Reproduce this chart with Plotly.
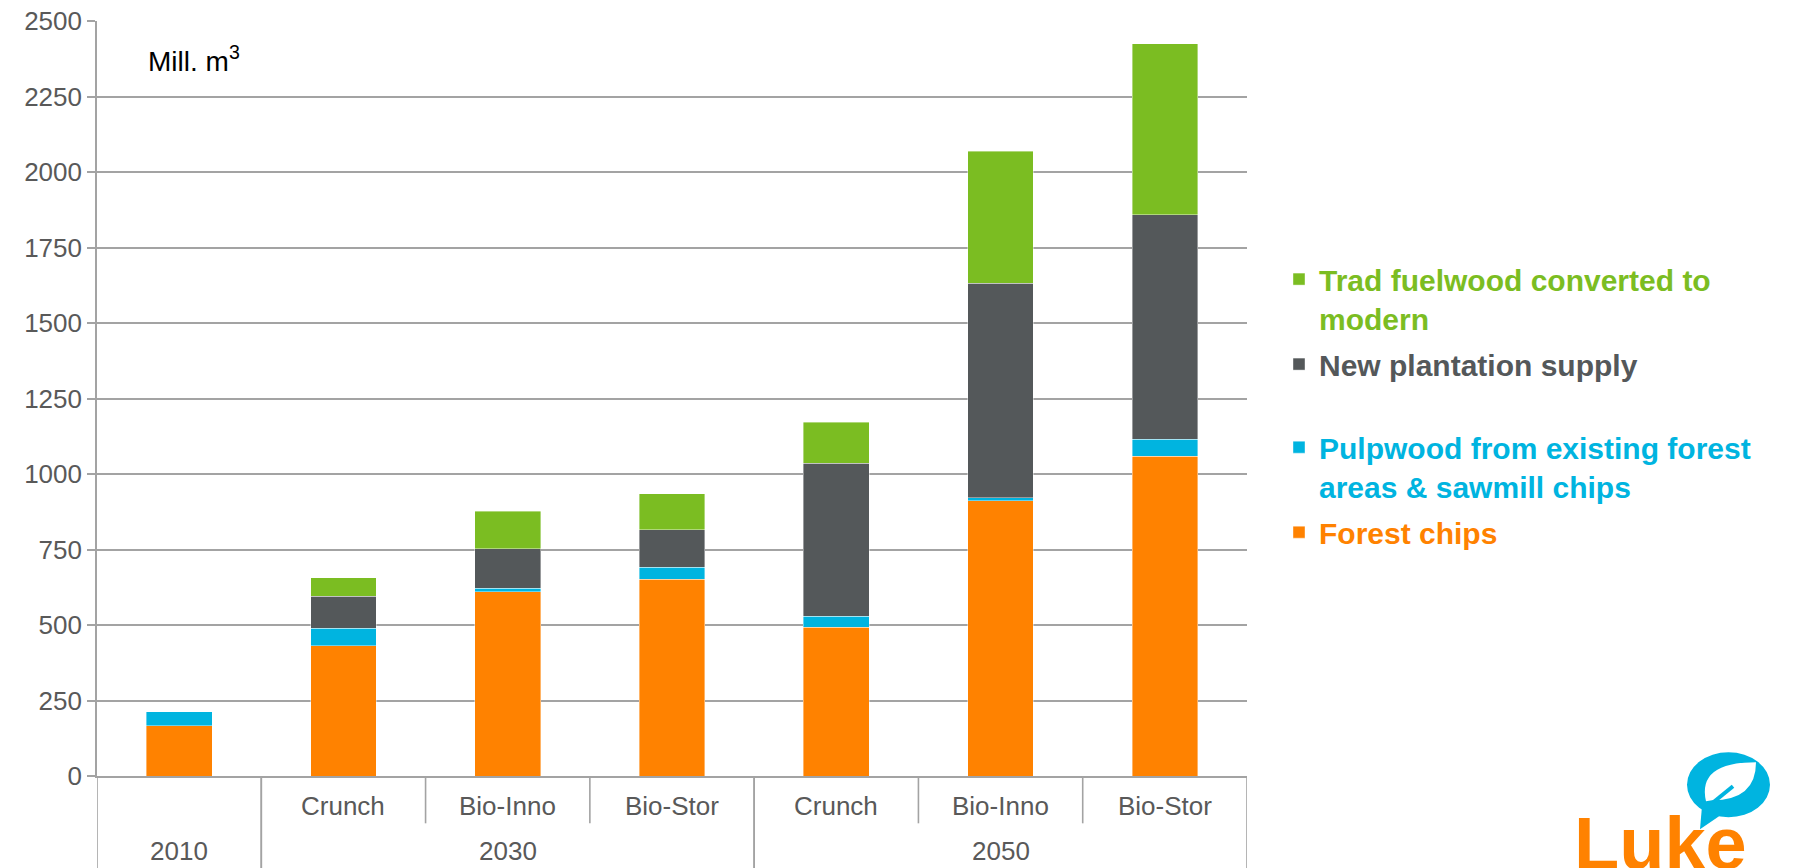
import plotly.graph_objects as go

# Wood supply by source, million m3
years = ["2010", "2030", "2030", "2030", "2050", "2050", "2050"]
scenarios = ["", "Crunch", "Bio-Inno", "Bio-Stor", "Crunch", "Bio-Inno", "Bio-Stor"]

forest_chips = [167, 432, 610, 651, 492, 912, 1058]
pulpwood = [46, 57, 11, 40, 37, 10, 57]
new_plantation = [None, 107, 132, 124, 507, 709, 743]
trad_fuelwood = [None, 61, 123, 120, 136, 437, 566]

y_ticks = [0, 250, 500, 750, 1000, 1250, 1500, 1750, 2000, 2250, 2500]

ORANGE = "#FF8200"
BLUE = "#00B4E0"
DARK = "#54585A"
GREEN = "#7BBD22"
GRID = "#A3A3A3"
TEXT = "#595959"
FONT = "Liberation Sans, Arial, sans-serif"

W, H = 1793, 868
L, R, T, B = 97, 1247, 21, 775.7


def px(x):
    return (x - L) / (R - L)


def py(y):
    return (B - y) / (B - T)


# one category per bar, keyed by year and scenario
keys = [f"{y} {s}".strip() for y, s in zip(years, scenarios)]

# (name, values, colour, legend box, rank in legend)
series = [
    ("Forest chips", forest_chips, ORANGE, "legend2", 4),
    ("Pulpwood from existing forest<br>areas &amp; sawmill chips", pulpwood, BLUE, "legend2", 3),
    ("New plantation supply", new_plantation, DARK, "legend", 2),
    ("Trad fuelwood converted to<br>modern", trad_fuelwood, GREEN, "legend", 1),
]

fig = go.Figure()
for i, (name, vals, col, leg, rank) in enumerate(series):
    fig.add_trace(go.Bar(
        x=keys, y=vals,
        name=f"<b><span style='color:{col}'>{name}</span></b>",
        legend=leg, legendgroup=f"g{rank}", legendrank=rank,
        marker=dict(color=col, line=dict(color="rgba(255,255,255,0.5)", width=0.8)),
    ))

legend_style = dict(
    traceorder="grouped",
    xanchor="left", yanchor="top",
    font=dict(size=30, family=FONT),
    valign="top",
    tracegroupgap=4,
    bgcolor="rgba(0,0,0,0)",
)

fig.update_layout(
    width=W, height=H,
    barmode="stack",
    bargap=0.6,
    plot_bgcolor="white",
    paper_bgcolor="white",
    margin=dict(l=L, r=W - R, t=T, b=H - B, autoexpand=False),
    font=dict(family=FONT, color=TEXT, size=26),
    legend=dict(x=px(1279), y=py(253), **legend_style),
    legend2=dict(x=px(1279), y=py(421), **legend_style),
)

fig.update_yaxes(
    range=[0, 2500],
    tickvals=y_ticks,
    showgrid=True, gridcolor=GRID, gridwidth=1.6,
    showline=True, linecolor=GRID, linewidth=1.6,
    ticks="outside", ticklen=8, tickcolor=GRID, tickwidth=1.6,
    tickfont=dict(size=26, color=TEXT),
    zeroline=False,
)

fig.update_xaxes(
    type="category",
    categoryorder="array", categoryarray=keys,
    range=[-0.5, len(keys) - 0.5],
    showline=True, linecolor=GRID, linewidth=1.6,
    showticklabels=False, ticks="",
)

# scenario labels under each bar
for i, s in enumerate(scenarios):
    if s:
        fig.add_annotation(
            xref="x", yref="paper", x=i, y=py(806),
            xanchor="center", yanchor="middle", showarrow=False,
            text=s, font=dict(size=26, color=TEXT, family=FONT),
        )

# year labels centred under their group, with full-height dividers at group edges
groups = []
for i, y in enumerate(years):
    if groups and groups[-1][0] == y:
        groups[-1][2] = i
    else:
        groups.append([y, i, i])

for y, first, last in groups:
    fig.add_annotation(
        xref="x", yref="paper", x=(first + last) / 2, y=py(851),
        xanchor="center", yanchor="middle", showarrow=False,
        text=y, font=dict(size=26, color=TEXT, family=FONT),
    )
    for edge in (first - 0.5, last + 0.5):
        fig.add_shape(type="line", xref="x", yref="paper",
                      x0=edge, x1=edge, y0=py(B), y1=py(875),
                      line=dict(color=GRID, width=1.6))
    for inner in range(first, last):
        fig.add_shape(type="line", xref="x", yref="paper",
                      x0=inner + 0.5, x1=inner + 0.5, y0=py(B), y1=py(823),
                      line=dict(color=GRID, width=1.6))

fig.add_annotation(
    xref="paper", yref="paper", x=px(146), y=py(59),
    xanchor="left", yanchor="middle", showarrow=False,
    text="Mill. m<sup>3</sup>", font=dict(size=28, color="black", family=FONT),
)

# Luke logo
fig.add_annotation(
    xref="paper", yref="paper", x=px(1572), y=py(800),
    xanchor="left", yanchor="top", showarrow=False,
    text="<b>Luke</b>", font=dict(size=74, color=ORANGE, family=FONT),
)
fig.add_shape(type="path", xref="paper", yref="paper",
              path=f"M{px(1702)},{py(806)} L{px(1700)},{py(829)} L{px(1722)},{py(814)} Z",
              fillcolor=BLUE, line=dict(width=0))
fig.add_shape(type="circle", xref="paper", yref="paper",
              x0=px(1687), x1=px(1770), y0=py(817), y1=py(752),
              fillcolor=BLUE, line=dict(width=0))
fig.add_shape(type="path", xref="paper", yref="paper",
              path=(f"M{px(1706)},{py(801)} Q{px(1697)},{py(762)} {px(1756)},{py(762)} "
                    f"Q{px(1756)},{py(800)} {px(1712)},{py(800)} Z"),
              fillcolor="white", line=dict(width=0))
fig.add_shape(type="path", xref="paper", yref="paper",
              path=f"M{px(1706)},{py(808)} L{px(1733)},{py(786)}",
              line=dict(color=BLUE, width=4))

fig.write_html("out.html")
